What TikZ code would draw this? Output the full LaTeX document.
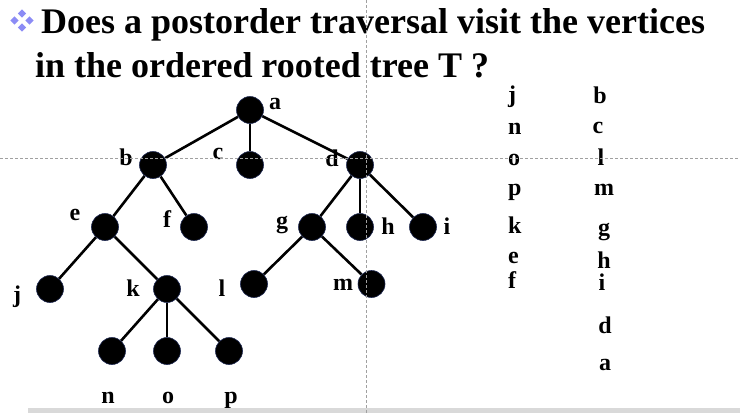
\documentclass[tikz,border=0pt]{standalone}
\usepackage{fontspec}
\setmainfont{Liberation Serif}
\usetikzlibrary{backgrounds}
\definecolor{guide}{RGB}{160,160,160}
\definecolor{barcol}{RGB}{217,217,217}
\definecolor{bulletcol}{RGB}{140,140,245}
\definecolor{rimcol}{RGB}{30,40,80}
\tikzset{
  vtx/.style={circle,minimum size=27pt,inner sep=0pt,fill=black,draw=rimcol,line width=0.6pt},
  edge/.style={line width=2.6pt,black},
  lbl/.style={anchor=base,inner sep=0pt,font=\fontsize{24}{24}\selectfont\bfseries},
  titletext/.style={anchor=base west,inner sep=0pt,font=\fontsize{36}{36}\selectfont\bfseries},
  guideline/.style={guide,line width=0.7pt,dash pattern=on 3pt off 2pt},
  diam/.style={fill=bulletcol,draw=none}
}
\begin{document}
\begin{tikzpicture}[x=1pt,y=-1pt]
\useasboundingbox (0,0) rectangle (740,413);
% bullet
\foreach \cx/\cy in {22/13.5,14.5/20.5,29.5/20.5,22/27.5}
  \fill[diam] (\cx,\cy-4.2) -- (\cx+4.2,\cy) -- (\cx,\cy+4.2) -- (\cx-4.2,\cy) -- cycle;
% title
\node[titletext] (t1) at (41,33) {Does a postorder traversal visit the vertices};
\node[titletext] (t2) at (35,77) {in the ordered rooted tree T ?};
% vertices
\node[vtx] (a) at (250,110) {};
\node[vtx] (b) at (153,165) {};
\node[vtx] (c) at (250,165) {};
\node[vtx] (d) at (360,165) {};
\node[vtx] (e) at (105,227) {};
\node[vtx] (f) at (194,227) {};
\node[vtx] (g) at (312,227) {};
\node[vtx] (h) at (360,227) {};
\node[vtx] (i) at (423,227) {};
\node[vtx] (j) at (50,289) {};
\node[vtx] (k) at (167,289) {};
\node[vtx] (l) at (254,284) {};
\node[vtx] (m) at (371.5,284) {};
\node[vtx] (n) at (112,351) {};
\node[vtx] (o) at (167,351) {};
\node[vtx] (p) at (229,351) {};
% edges
\begin{scope}[on background layer]
\draw[edge] (a) -- (b);
\draw[edge] (a) -- (c);
\draw[edge] (a) -- (d);
\draw[edge] (b) -- (e);
\draw[edge] (b) -- (f);
\draw[edge] (d) -- (g);
\draw[edge] (d) -- (h);
\draw[edge] (d) -- (i);
\draw[edge] (e) -- (j);
\draw[edge] (e) -- (k);
\draw[edge] (g) -- (l);
\draw[edge] (g) -- (m);
\draw[edge] (k) -- (n);
\draw[edge] (k) -- (o);
\draw[edge] (k) -- (p);
\end{scope}
% vertex labels
\node[lbl] (la) at (275,109) {a};
\node[lbl] (lb) at (126,165) {b};
\node[lbl] (lc) at (218,159) {c};
\node[lbl] (ld) at (332,166) {d};
\node[lbl] (le) at (75,220) {e};
\node[lbl] (lf) at (167,227) {f};
\node[lbl] (lg) at (282,228) {g};
\node[lbl] (lh) at (388,234) {h};
\node[lbl] (li) at (447,234) {i};
\node[lbl] (lj) at (17,302) {j};
\node[lbl] (lk) at (133,296) {k};
\node[lbl] (ll) at (222,296) {l};
\node[lbl] (lm) at (343,290) {m};
\node[lbl] (ln) at (108,403) {n};
\node[lbl] (lo) at (168,403) {o};
\node[lbl] (lp) at (231,403) {p};
% postorder list, column 1
\node[lbl,anchor=base west] (q1) at (508,102) {j};
\node[lbl,anchor=base west] (q2) at (508,134) {n};
\node[lbl,anchor=base west] (q3) at (508,165) {o};
\node[lbl,anchor=base west] (q4) at (508,195) {p};
\node[lbl,anchor=base west] (q5) at (508,233) {k};
\node[lbl,anchor=base west] (q6) at (508,263) {e};
\node[lbl,anchor=base west] (q7) at (508,288) {f};
% column 2
\node[lbl] (r1) at (600,103) {b};
\node[lbl] (r2) at (598,133) {c};
\node[lbl] (r3) at (601,165) {l};
\node[lbl] (r4) at (604,195) {m};
\node[lbl] (r5) at (604,235) {g};
\node[lbl] (r6) at (604,268) {h};
\node[lbl] (r7) at (602,290) {i};
\node[lbl] (r8) at (605,333) {d};
\node[lbl] (r9) at (605,370) {a};
% guide lines and bottom bar (drawn over everything, as in the reference)
\fill[barcol] (28,408) rectangle (740,413);
\draw[guideline] (0,158) -- (740,158);
\draw[guideline] (366,0) -- (366,413);
\end{tikzpicture}
\end{document}
